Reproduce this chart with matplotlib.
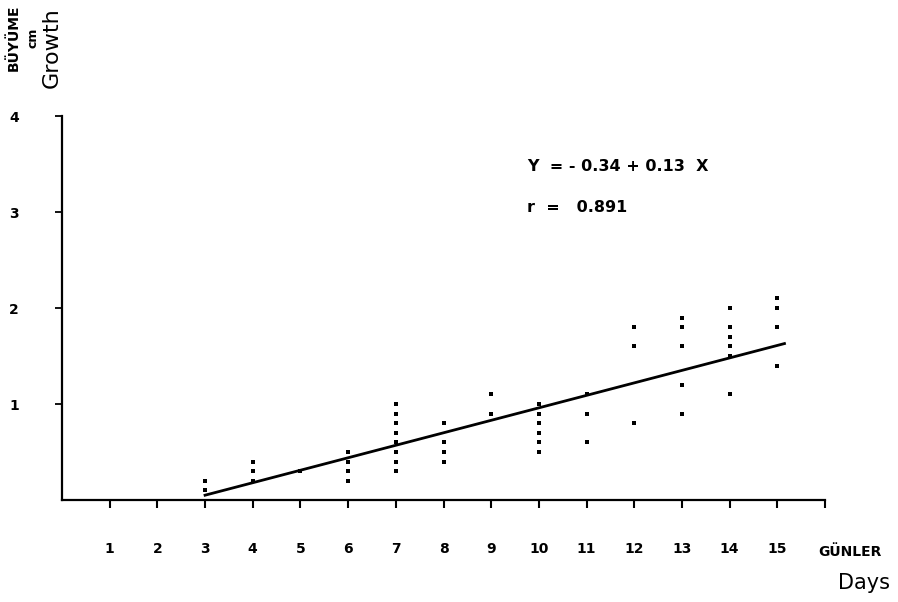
import numpy as np
import matplotlib.pyplot as plt

# büyüme ölçümleri (cm), güne göre
days = [3, 3,
        4, 4, 4,
        5,
        6, 6, 6, 6,
        7, 7, 7, 7, 7, 7, 7, 7,
        8, 8, 8, 8,
        9, 9,
        10, 10, 10, 10, 10, 10,
        11, 11, 11,
        12, 12, 12,
        13, 13, 13, 13, 13,
        14, 14, 14, 14, 14, 14,
        15, 15, 15, 15]
growth = [0.2, 0.1,
          0.4, 0.3, 0.2,
          0.3,
          0.5, 0.4, 0.3, 0.2,
          1.0, 0.9, 0.8, 0.7, 0.6, 0.5, 0.4, 0.3,
          0.8, 0.6, 0.5, 0.4,
          1.1, 0.9,
          1.0, 0.9, 0.8, 0.7, 0.6, 0.5,
          1.1, 0.9, 0.6,
          1.8, 1.6, 0.8,
          1.9, 1.8, 1.6, 1.2, 0.9,
          2.0, 1.8, 1.7, 1.6, 1.5, 1.1,
          2.1, 2.0, 1.8, 1.4]

a, b = -0.34, 0.13
r = 0.891
xticks = list(range(1, 17))
xlabels = [str(i) for i in range(1, 16)] + [""]
yticks = [1, 2, 3, 4]

fig = plt.figure(figsize=(8.98, 6.02), dpi=100)
ax = fig.add_axes([62 / 898, 102 / 602, 763 / 898, 384 / 602])

ax.scatter(days, growth, s=9, color="black", marker="s", linewidths=0)
xl = np.array([3, 15.15])
ax.plot(xl, a + b * xl, color="black", lw=2)

ax.set_xlim(0, 16)
ax.set_ylim(0, 4)
for s in ["top", "right"]:
    ax.spines[s].set_visible(False)
ax.spines["left"].set_linewidth(1.6)
ax.spines["bottom"].set_linewidth(1.6)

ax.set_xticks(xticks)
ax.set_xticklabels(xlabels, fontsize=10, fontweight="bold")
ax.set_yticks(yticks)
ax.set_yticklabels([str(v) for v in yticks], fontsize=10, fontweight="bold")
ax.tick_params(axis="x", length=6, width=1.5, pad=24)
ax.tick_params(axis="y", length=5, width=1.3, pad=26)

ax.text(9.75, 3.43, "Y  = - 0.34 + 0.13  X", fontsize=11.5, fontweight="bold")
ax.text(9.75, 3.0, "r  =   0.891", fontsize=11.5, fontweight="bold")

fig.text(882 / 898, 1 - 552 / 602, "GÜNLER", fontsize=10, fontweight="bold",
         ha="right", va="center")
fig.text(890 / 898, 1 - 583 / 602, "Days", fontsize=15, ha="right", va="center")

fig.text(14 / 898, 1 - 38 / 602, "BÜYÜME", fontsize=10, fontweight="bold",
         rotation=90, ha="center", va="center")
fig.text(33 / 898, 1 - 38 / 602, "cm", fontsize=9, fontweight="bold",
         rotation=90, ha="center", va="center")
fig.text(52 / 898, 1 - 48 / 602, "Growth", fontsize=16,
         rotation=90, ha="center", va="center")

fig.savefig("out.png", dpi=100, facecolor="white")
